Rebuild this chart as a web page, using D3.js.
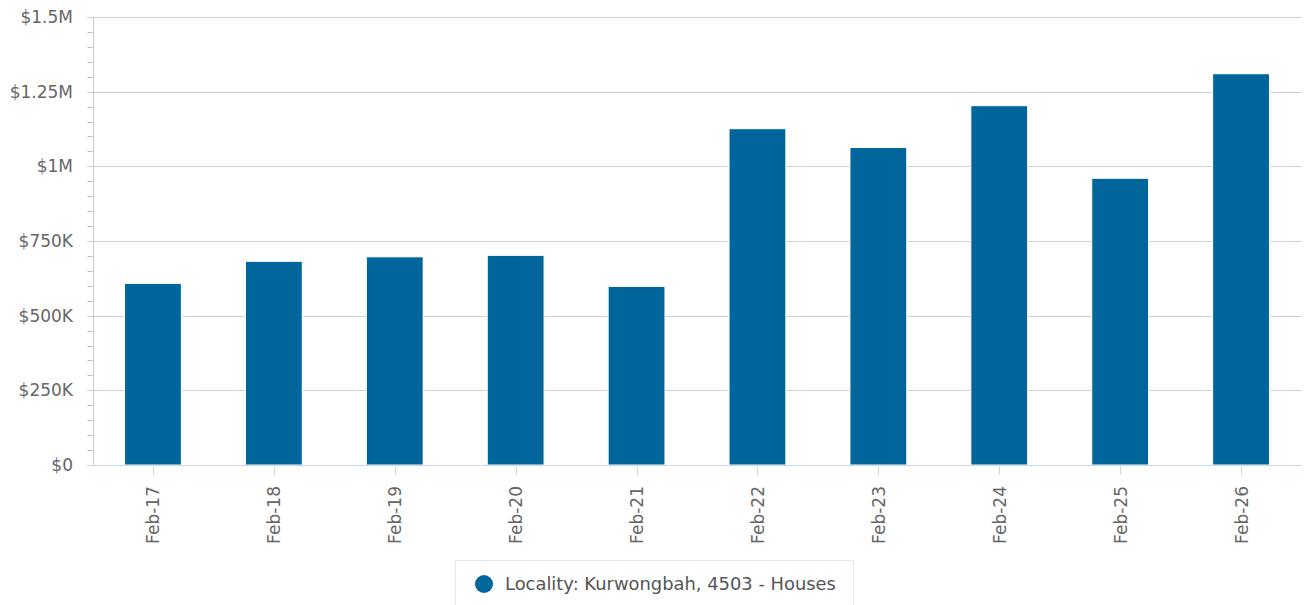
<!DOCTYPE html>
<html><head><meta charset="utf-8">
<script src="https://cdn.jsdelivr.net/npm/d3@7"></script>
<style>body{margin:0;background:#fff;}svg{display:block;font-family:"DejaVu Sans",sans-serif;}</style>
</head><body>
<svg id="c" width="1306" height="605"></svg>
<script>
const categories = ["Feb-17","Feb-18","Feb-19","Feb-20","Feb-21","Feb-22","Feb-23","Feb-24","Feb-25","Feb-26"];
const values = [608000, 682000, 697000, 702000, 598000, 1126000, 1063000, 1203000, 960000, 1310000];
const yTicks = [0, 250000, 500000, 750000, 1000000, 1250000, 1500000];
const yTickLabels = ["$0","$250K","$500K","$750K","$1M","$1.25M","$1.5M"];
const seriesName = "Locality: Kurwongbah, 4503 - Houses";

(function(){
const svg = d3.select("#c");
const mL = 92.5, mR = 1301.5, mT = 17, mB = 465;
const x = d3.scaleBand().domain(categories).range([mL, mR]).paddingInner(0.53).paddingOuter(0.265);
const xc = d3.scaleBand().domain(categories).range([mL, mR]);
const y = d3.scaleLinear().domain([0, 1500000]).range([mB, mT]);

// minor ticks
const minor = d3.range(0, 1500001, 50000);
svg.append("g").selectAll("line").data(minor).join("line")
  .attr("x1", mL - 5).attr("x2", mL).attr("y1", d => Math.round(y(d)) + 0.5).attr("y2", d => Math.round(y(d)) + 0.5)
  .attr("stroke", "#bbb").attr("stroke-width", 1);

// grid
svg.append("g").selectAll("line").data(yTicks).join("line")
  .attr("x1", mL - 5).attr("x2", mR).attr("y1", d => Math.round(y(d)) + 0.5).attr("y2", d => Math.round(y(d)) + 0.5)
  .attr("stroke", "#d0d0d0").attr("stroke-width", 1);

// y axis line
svg.append("line").attr("x1", Math.round(mL) + 0.5).attr("x2", Math.round(mL) + 0.5)
  .attr("y1", mT).attr("y2", mB).attr("stroke", "#ccc");

// y labels
svg.append("g").selectAll("text").data(yTicks).join("text")
  .attr("x", 73).attr("y", d => y(d) + 6).attr("text-anchor", "end")
  .attr("font-size", 17).attr("fill", "#666").text((d, i) => yTickLabels[i]);

// bars
svg.append("g").selectAll("rect").data(values).join("rect")
  .attr("x", (d, i) => x(categories[i])).attr("width", x.bandwidth())
  .attr("y", d => y(d)).attr("height", d => y(0) - y(d))
  .attr("fill", "#00659a").attr("stroke", "#ffffff").attr("stroke-width", 1);

// x axis line
svg.append("line").attr("x1", mL).attr("x2", mR).attr("y1", mB + 0.5).attr("y2", mB + 0.5).attr("stroke", "#ccd6eb");

// x ticks
svg.append("g").selectAll("line").data(categories).join("line")
  .attr("x1", d => Math.round(xc(d) + xc.bandwidth() / 2) + 0.5).attr("x2", d => Math.round(xc(d) + xc.bandwidth() / 2) + 0.5)
  .attr("y1", mB).attr("y2", mB + 10).attr("stroke", "#ccd6eb");

// x labels
svg.append("g").selectAll("text").data(categories).join("text")
  .attr("transform", d => `translate(${xc(d) + xc.bandwidth() / 2 + 6.5},${mB + 21}) rotate(-90)`)
  .attr("text-anchor", "end").attr("font-size", 17).attr("fill", "#666").text(d => d);

// legend
const lg = svg.append("g");
lg.append("rect").attr("x", 455.5).attr("y", 560.5).attr("width", 398).attr("height", 60)
  .attr("fill", "#fff").attr("stroke", "#e6e6e6");
lg.append("circle").attr("cx", 484).attr("cy", 584).attr("r", 9).attr("fill", "#00659a");
lg.append("text").attr("x", 505).attr("y", 590).attr("font-size", 17.9).attr("fill", "#555").text(seriesName);
})();
</script>
</body></html>
